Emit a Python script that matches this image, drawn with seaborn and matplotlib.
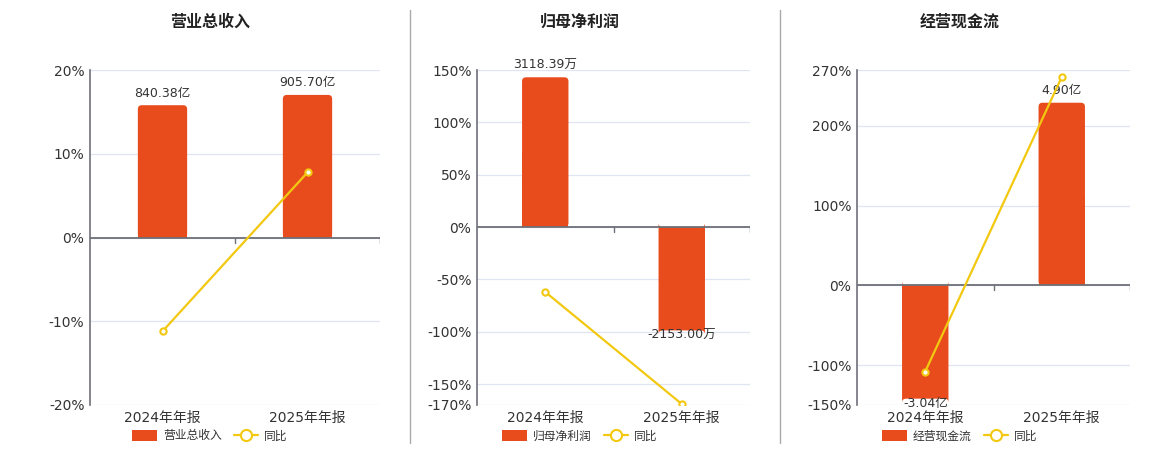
import numpy as np
import pandas as pd
import seaborn as sns
import matplotlib.pyplot as plt
from matplotlib.patches import FancyBboxPatch, Rectangle, Patch
from matplotlib.lines import Line2D

# data
periods = ['2024年年报', '2025年年报']

revenue = [840.38, 905.70]          # 亿
revenue_yoy = [-11.2, 7.77]         # %
profit = [3118.39, -2153.00]        # 万
profit_yoy = [-62.0, -169.04]
cashflow = [-3.04, 4.90]            # 亿
cashflow_yoy = [-108.0, 261.2]

revenue_ticks = [-20, -10, 0, 10, 20]
profit_ticks = [-170, -150, -100, -50, 0, 50, 100, 150]
cashflow_ticks = [-150, -100, 0, 100, 200, 270]

BAR = '#E84C1C'
LINE = '#F2C811'
AXIS = '#6E7079'
GRID = '#E0E6F1'
TXT = '#333333'

sns.set_theme(style='white')
plt.rcParams['font.family'] = ['DejaVu Sans', 'Noto Sans CJK SC']

W, H = 1160, 450
fig = plt.figure(figsize=(W / 100, H / 100), dpi=100)
fig.patch.set_facecolor('white')

panels = [
    dict(title='营业总收入', values=revenue, yoy=revenue_yoy, unit='亿',
         ticks=revenue_ticks, scale=53.2, left=90, width=290, center=210),
    dict(title='归母净利润', values=profit, yoy=profit_yoy, unit='万',
         ticks=profit_ticks, scale=21.8, left=477, width=273, center=580),
    dict(title='经营现金流', values=cashflow, yoy=cashflow_yoy, unit='亿',
         ticks=cashflow_ticks, scale=0.0214, left=857, width=273, center=960),
]

top_px, bot_px = 70, 405
for p in panels:
    rect = [p['left'] / W, 1 - bot_px / H, p['width'] / W, (bot_px - top_px) / H]
    ax = fig.add_axes(rect)
    axb = ax.twinx()
    axl = ax.twinx()
    ax.set_zorder(1)
    axb.set_zorder(2)
    axl.set_zorder(3)
    axb.patch.set_visible(False)
    axl.patch.set_visible(False)

    df = pd.DataFrame({'period': periods, 'value': p['values'], 'yoy': p['yoy']})
    lo, hi = p['ticks'][0], p['ticks'][-1]

    # bars
    sns.barplot(data=df, x='period', y='value', ax=axb, color=BAR, width=0.34,
                saturation=1, edgecolor='none')
    axb.set_ylim(lo * p['scale'], hi * p['scale'])
    ax.set_xlim(-0.5, 1.5)
    ax.set_ylim(lo, hi)

    # round the outer corners of the bars
    px_x = p['width'] / 2.0
    px_y = (bot_px - top_px) / (hi - lo) / p['scale']
    r = 4
    for bar in axb.containers[0]:
        bar.set_visible(False)
        x0, w, h = bar.get_x(), bar.get_width(), bar.get_height()
        axb.add_patch(FancyBboxPatch((x0, 0), w, h,
                                     boxstyle=f'round,pad=0,rounding_size={r / px_x}',
                                     mutation_aspect=px_x / px_y,
                                     fc=BAR, ec='none'))
        axb.add_patch(Rectangle((x0, 0), w, h / 2, fc=BAR, ec='none'))
    pos_labels = [f'{v:.2f}{p["unit"]}' if v >= 0 else '' for v in p['values']]
    neg_labels = [f'{v:.2f}{p["unit"]}' if v < 0 else '' for v in p['values']]
    axb.bar_label(axb.containers[0], labels=pos_labels, padding=4,
                  fontsize=9, color=TXT)
    axb.bar_label(axb.containers[0], labels=neg_labels, padding=-1,
                  fontsize=9, color=TXT)

    # yoy line
    sns.lineplot(data=df, x='period', y='yoy', ax=axl, color=LINE, lw=1.6,
                 marker='o', markersize=4.5, markerfacecolor='white',
                 markeredgecolor=LINE, markeredgewidth=1.5)
    axl.set_ylim(lo, hi)
    axl.axhline(0, color=AXIS, lw=1.3, zorder=1)
    z = (0 - lo) / (hi - lo)
    for b in [0.5, 1.5]:
        axl.axvline(b, ymin=z - 5 / (bot_px - top_px), ymax=z, color=AXIS, lw=1)

    for a in (axb, axl):
        a.set_yticks([])
        a.set_ylabel('')
        a.set_xlabel('')
        for s in a.spines.values():
            s.set_visible(False)

    ax.set_yticks(p['ticks'])
    ax.set_yticklabels([f'{t}%' for t in p['ticks']], fontsize=10, color=TXT)
    ax.set_xticks([0, 1])
    ax.set_xticklabels(periods, fontsize=10, color=TXT)
    ax.tick_params(axis='both', length=0, pad=4)
    ax.grid(axis='y', color=GRID, lw=0.9)
    ax.set_xlim(-0.5, 1.5)
    for s in ['top', 'right', 'bottom']:
        ax.spines[s].set_visible(False)
    ax.spines['left'].set_color(AXIS)
    ax.spines['left'].set_linewidth(1.2)

    fig.text(p['center'] / W, 1 - 22 / H, p['title'], ha='center', va='center',
             fontsize=11.5, fontweight='bold', color='#222222')

    handles = [Patch(facecolor=BAR, edgecolor='none', label=p['title']),
               Line2D([], [], color=LINE, lw=1.6, marker='o', markersize=8,
                      markerfacecolor='white', markeredgecolor=LINE,
                      markeredgewidth=1.5, label='同比')]
    fig.legend(handles=handles, loc='center', ncol=2, frameon=False,
               bbox_to_anchor=(p['center'] / W, 1 - 436 / H), fontsize=8.5,
               handlelength=2.1, handleheight=1.1, columnspacing=1.0,
               handletextpad=0.5, labelcolor=TXT)

# separators between panels
for x in [410, 780]:
    fig.add_artist(Line2D([x / W, x / W], [1 - 443 / H, 1 - 10 / H],
                          transform=fig.transFigure, color='#AAAAAA', lw=1))

fig.savefig('out.png', dpi=100)
